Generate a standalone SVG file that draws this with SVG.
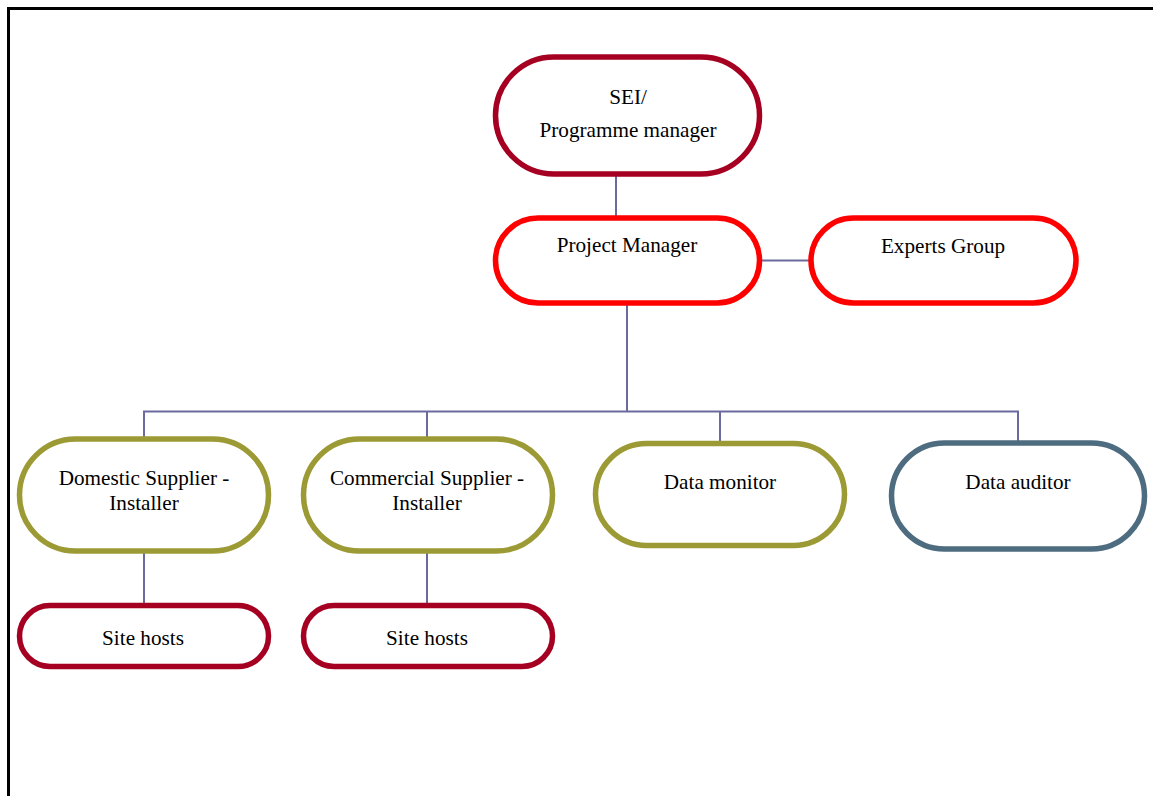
<svg xmlns="http://www.w3.org/2000/svg" width="1153" height="796" viewBox="0 0 1153 796">
<style>
.n{fill:#fff;stroke-width:5.5}
.crim{stroke:#A50021}
.red{stroke:#FF0000}
.olive{stroke:#9C9A34}
.slate{stroke:#4E6C80}
.c{fill:none;stroke:#6A6A9E;stroke-width:2}
text{font-family:"Liberation Serif","Times New Roman",serif;font-size:21.2px;fill:#000;text-anchor:middle}
</style>
<rect width="1153" height="796" fill="#fff"/>
<path d="M8.5,796 V8.5 H1153" fill="none" stroke="#000" stroke-width="3"/>
<g id="connectors">
<path class="c" d="M616,175 V217"/>
<path class="c" d="M760,260.5 H811"/>
<path class="c" d="M627,303 V411.5"/>
<path class="c" d="M144,438 V411.5 H1018 V443"/>
<path class="c" d="M427,411.5 V438"/>
<path class="c" d="M720,411.5 V443"/>
<path class="c" d="M144,552 V605"/>
<path class="c" d="M427,552 V605"/>
</g>
<g id="sei">
<rect class="n crim" x="495.5" y="57" width="264" height="117" rx="58.5"/>
<text x="628" y="104">SEI/</text>
<text x="628" y="137">Programme manager</text>
</g>
<g id="pm">
<rect class="n red" x="495.5" y="218" width="264" height="85" rx="42.5"/>
<text x="627" y="252">Project Manager</text>
</g>
<g id="experts">
<rect class="n red" x="811" y="218" width="265" height="85" rx="42.5"/>
<text x="943" y="253">Experts Group</text>
</g>
<g id="domestic">
<rect class="n olive" x="19.5" y="439" width="249" height="112" rx="56"/>
<text x="144" y="485">Domestic Supplier -</text>
<text x="144" y="510">Installer</text>
</g>
<g id="commercial">
<rect class="n olive" x="303.5" y="439" width="249" height="112" rx="56"/>
<text x="427" y="485">Commercial Supplier -</text>
<text x="427" y="510">Installer</text>
</g>
<g id="monitor">
<rect class="n olive" x="595.5" y="443.5" width="249" height="102" rx="51"/>
<text x="720" y="489">Data monitor</text>
</g>
<g id="auditor">
<rect class="n slate" x="891.5" y="443" width="253" height="106" rx="53"/>
<text x="1018" y="489">Data auditor</text>
</g>
<g id="site1">
<rect class="n crim" x="19.5" y="605.5" width="249" height="61" rx="30.5"/>
<text x="143" y="645">Site hosts</text>
</g>
<g id="site2">
<rect class="n crim" x="303.5" y="605.5" width="249" height="61" rx="30.5"/>
<text x="427" y="645">Site hosts</text>
</g>
</svg>
